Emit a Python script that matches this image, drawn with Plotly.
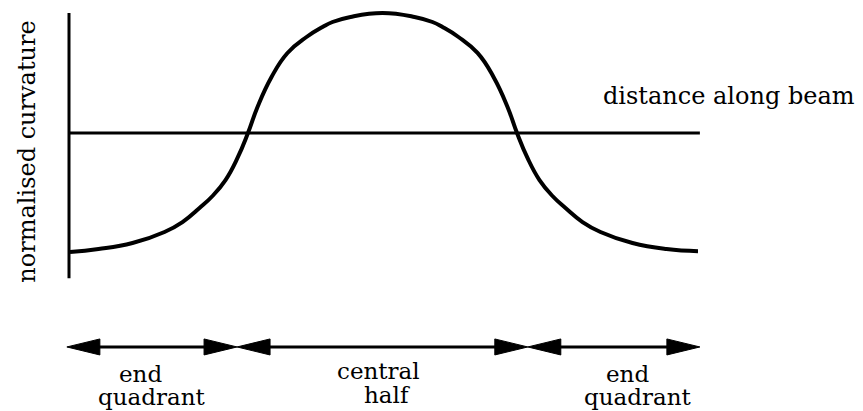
import plotly.graph_objects as go

# Curve: normalised curvature vs distance along beam (beam length = 1)
beam_x = [0.0000, 0.0454, 0.0995, 0.1505, 0.1791, 0.2062, 0.2269, 0.2476, 0.2667,
          0.2834, 0.2986, 0.3209, 0.3463, 0.3766, 0.4021, 0.4180, 0.4467, 0.4976,
          0.5486, 0.5772, 0.5932, 0.6186, 0.6489, 0.6744, 0.6967, 0.7118, 0.7285,
          0.7476, 0.7683, 0.7890, 0.8161, 0.8447, 0.8957, 0.9498, 1.0000]
curvature = [-0.992, -0.967, -0.917, -0.825, -0.742, -0.625, -0.525, -0.392, -0.208,
             0.000, 0.217, 0.467, 0.667, 0.800, 0.883, 0.925, 0.967, 1.000,
             0.967, 0.925, 0.883, 0.800, 0.667, 0.467, 0.217, 0.000, -0.208,
             -0.392, -0.525, -0.625, -0.742, -0.825, -0.917, -0.967, -0.985]

# Axis lines
xaxis_line_x = [0.0, 1.003]
yaxis_line_y = [1.0, -1.21]

# Zones along the beam (edges) and their labels
zone_edges = [-0.005, 0.266, 0.729, 1.003]
zone_top_labels = ["end", "central", "end"]
zone_bottom_labels = ["quadrant", "half", "quadrant"]
zone_top_x = [0.113, 0.492, 0.887]
zone_bottom_x = [0.129, 0.505, 0.903]
arrow_y = -1.783

FONT = "DejaVu Serif"
PX_X = 628.0   # pixels per beam unit (x)
PX_Y = 120.0   # pixels per curvature unit (y)
PAGE_OFFSET = 8  # default body margin of the html page

fig = go.Figure()

fig.add_trace(go.Scatter(x=xaxis_line_x, y=[0, 0], mode="lines",
                         line=dict(color="black", width=3), hoverinfo="skip"))
fig.add_trace(go.Scatter(x=[-0.0016, -0.0016], y=yaxis_line_y, mode="lines",
                         line=dict(color="black", width=3), hoverinfo="skip"))
fig.add_trace(go.Scatter(x=beam_x, y=curvature, mode="lines",
                         line=dict(color="black", width=4, shape="spline", smoothing=1.3),
                         hoverinfo="skip"))

head_len = 33 / PX_X
head_half = 8 / PX_Y
shapes = []
for i in range(len(zone_edges) - 1):
    a, b = zone_edges[i], zone_edges[i + 1]
    fig.add_trace(go.Scatter(x=[a + head_len * 0.5, b - head_len * 0.5], y=[arrow_y, arrow_y],
                             mode="lines", line=dict(color="black", width=3), hoverinfo="skip"))
    shapes.append(dict(type="path", xref="x", yref="y",
                       path=f"M {a} {arrow_y} L {a + head_len} {arrow_y + head_half} "
                            f"L {a + head_len} {arrow_y - head_half} Z",
                       fillcolor="black", line=dict(color="black", width=1)))
    shapes.append(dict(type="path", xref="x", yref="y",
                       path=f"M {b} {arrow_y} L {b - head_len} {arrow_y + head_half} "
                            f"L {b - head_len} {arrow_y - head_half} Z",
                       fillcolor="black", line=dict(color="black", width=1)))

annotations = []
for i in range(3):
    annotations.append(dict(x=zone_top_x[i], y=-2.01 if i != 1 else -1.98, xref="x", yref="y",
                            text=zone_top_labels[i], showarrow=False,
                            font=dict(family=FONT, size=23, color="black"),
                            xanchor="center", yanchor="middle"))
    annotations.append(dict(x=zone_bottom_x[i], y=-2.20 if i != 1 else -2.185, xref="x", yref="y",
                            text=zone_bottom_labels[i], showarrow=False,
                            font=dict(family=FONT, size=23, color="black"),
                            xanchor="center", yanchor="middle"))

annotations.append(dict(x=0.846, y=0.305, xref="x", yref="y", text="distance along beam",
                        showarrow=False, font=dict(family=FONT, size=24, color="black"),
                        xanchor="left", yanchor="middle"))
annotations.append(dict(x=-0.069, y=-0.158, xref="x", yref="y", text="normalised curvature",
                        showarrow=False, textangle=-90,
                        font=dict(family=FONT, size=24, color="black"),
                        xanchor="center", yanchor="middle"))

fig.update_layout(
    width=863 - PAGE_OFFSET, height=411 - PAGE_OFFSET,
    margin=dict(l=0, r=0, t=0, b=0),
    paper_bgcolor="white", plot_bgcolor="white",
    showlegend=False,
    shapes=shapes,
    annotations=annotations,
    xaxis=dict(range=[(PAGE_OFFSET - 70) / PX_X, (863 - 70) / PX_X], visible=False, fixedrange=True),
    yaxis=dict(range=[-(411 - 133) / PX_Y, (133 - PAGE_OFFSET) / PX_Y], visible=False, fixedrange=True),
)

fig.write_html("out.html", config={"displayModeBar": False})
